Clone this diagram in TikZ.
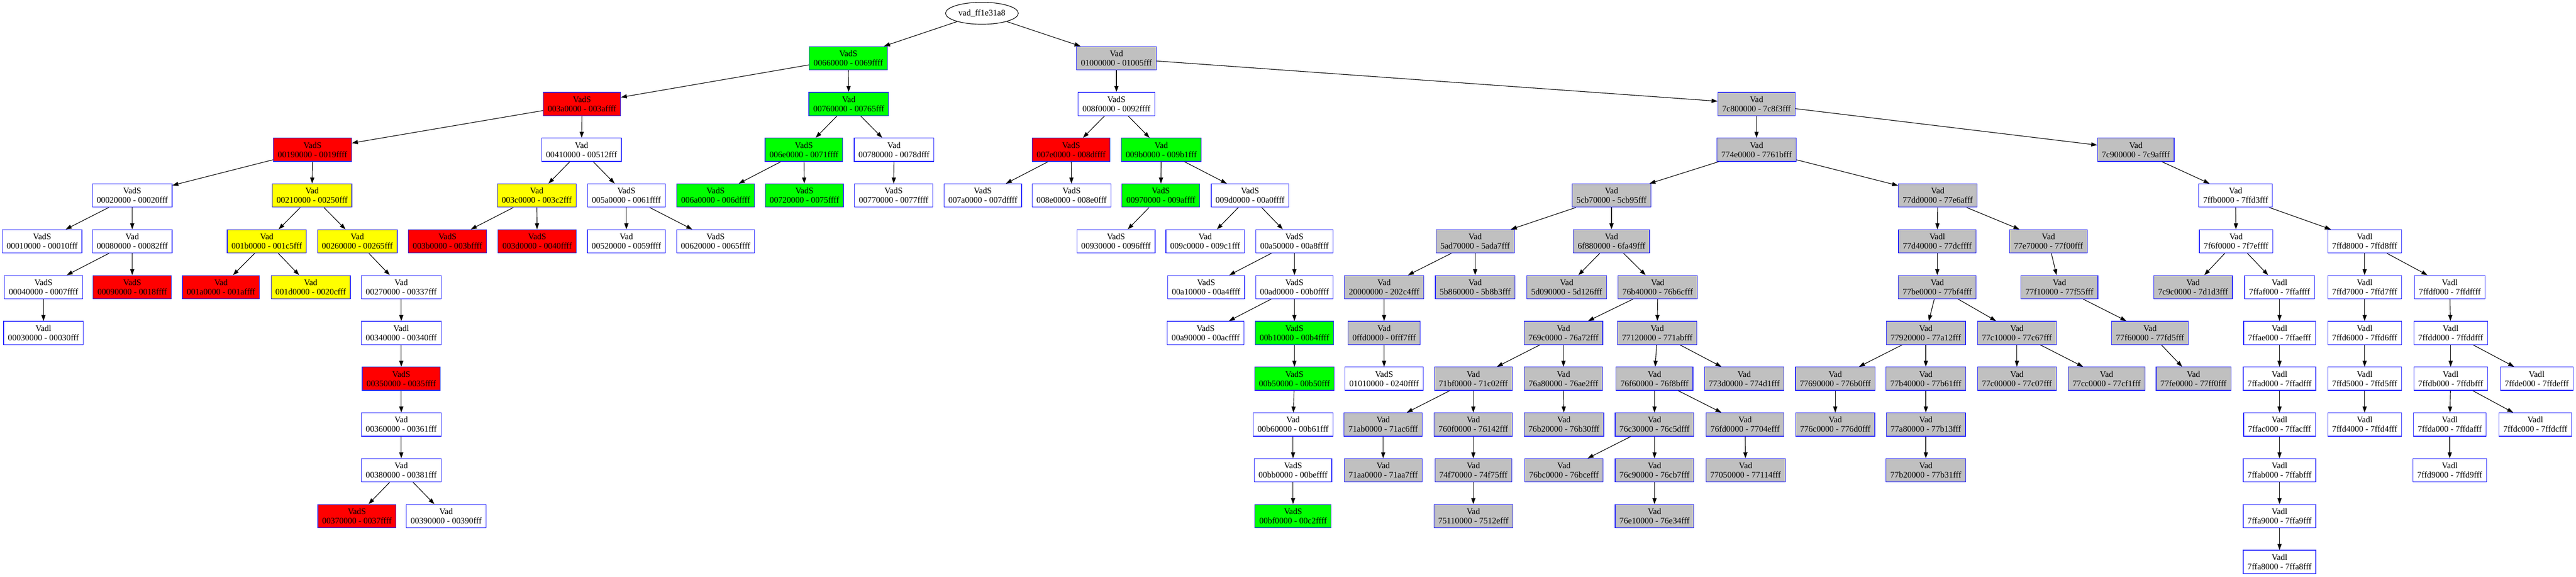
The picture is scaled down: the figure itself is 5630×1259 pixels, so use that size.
\documentclass[tikz,border=0pt]{standalone}
\usepackage{fontspec}
\setmainfont{Liberation Serif}[Ligatures=NoCommon]
\usetikzlibrary{arrows.meta,shapes.geometric}
\definecolor{vgreen}{RGB}{0,255,0}
\definecolor{vred}{RGB}{255,0,0}
\definecolor{vyellow}{RGB}{255,255,0}
\definecolor{vgray}{RGB}{192,192,192}
\definecolor{vblue}{RGB}{40,40,255}
\newcommand\vadfont{\fontsize{18.7}{20.3}\selectfont}
\newcommand\vadnode[6]{\node[vbox,fill=#6] (#1) at (#2,{27+100*#3}) {#4\\#5};}
\tikzset{
  vbox/.style={draw=vblue, line width=1.4pt, rectangle, minimum height=51pt,
    inner xsep=9.5pt, inner ysep=2pt, align=center, font=\vadfont},
  vedge/.style={line width=1.3pt, -{Triangle[length=13pt,width=9pt]}}
}
\begin{document}
\begin{tikzpicture}[x=1pt,y=-1pt]
\useasboundingbox (0,0) rectangle (5630,1259);
\node[draw, ellipse, line width=1.3pt, minimum width=159pt, minimum height=48pt, inner sep=0pt, font=\vadfont] (root) at (2146,29) {vad\_ff1e31a8};
% left subtree
\vadnode{a00660000}{1854}{1}{VadS}{00660000 - 0069ffff}{vgreen}
\vadnode{a003a0000}{1272}{2}{VadS}{003a0000 - 003affff}{vred}
\vadnode{a00190000}{683}{3}{VadS}{00190000 - 0019ffff}{vred}
\vadnode{a00020000}{289}{4}{VadS}{00020000 - 00020fff}{white}
\vadnode{a00010000}{92}{5}{VadS}{00010000 - 00010fff}{white}
\vadnode{a00080000}{289}{5}{Vad}{00080000 - 00082fff}{white}
\vadnode{a00040000}{95}{6}{VadS}{00040000 - 0007ffff}{white}
\vadnode{a00030000}{95}{7}{Vadl}{00030000 - 00030fff}{white}
\vadnode{a00090000}{289}{6}{VadS}{00090000 - 0018ffff}{vred}
\vadnode{a00210000}{682}{4}{Vad}{00210000 - 00250fff}{vyellow}
\vadnode{a001b0000}{583}{5}{Vad}{001b0000 - 001c5fff}{vyellow}
\vadnode{a001a0000}{483}{6}{Vad}{001a0000 - 001affff}{vred}
\vadnode{a001d0000}{679}{6}{Vad}{001d0000 - 0020cfff}{vyellow}
\vadnode{a00260000}{781}{5}{Vad}{00260000 - 00265fff}{vyellow}
\vadnode{a00270000}{877}{6}{Vad}{00270000 - 00337fff}{white}
\vadnode{a00340000}{877}{7}{Vadl}{00340000 - 00340fff}{white}
\vadnode{a00350000}{877}{8}{VadS}{00350000 - 0035ffff}{vred}
\vadnode{a00360000}{877}{9}{Vad}{00360000 - 00361fff}{white}
\vadnode{a00380000}{877}{10}{Vad}{00380000 - 00381fff}{white}
\vadnode{a00370000}{780}{11}{VadS}{00370000 - 0037ffff}{vred}
\vadnode{a00390000}{975}{11}{Vad}{00390000 - 00390fff}{white}
\vadnode{a00410000}{1271}{3}{Vad}{00410000 - 00512fff}{white}
\vadnode{a003c0000}{1173}{4}{Vad}{003c0000 - 003c2fff}{vyellow}
\vadnode{a003b0000}{978}{5}{VadS}{003b0000 - 003bffff}{vred}
\vadnode{a003d0000}{1174}{5}{VadS}{003d0000 - 0040ffff}{vred}
\vadnode{a005a0000}{1369}{4}{VadS}{005a0000 - 0061ffff}{white}
\vadnode{a00520000}{1369}{5}{Vad}{00520000 - 0059ffff}{white}
\vadnode{a00620000}{1564}{5}{VadS}{00620000 - 0065ffff}{white}
\vadnode{a00760000}{1855}{2}{Vad}{00760000 - 00765fff}{vgreen}
\vadnode{a006e0000}{1757}{3}{VadS}{006e0000 - 0071ffff}{vgreen}
\vadnode{a006a0000}{1564}{4}{VadS}{006a0000 - 006dffff}{vgreen}
\vadnode{a00720000}{1758}{4}{VadS}{00720000 - 0075ffff}{vgreen}
\vadnode{a00780000}{1954}{3}{Vad}{00780000 - 0078dfff}{white}
\vadnode{a00770000}{1953}{4}{VadS}{00770000 - 0077ffff}{white}
% middle subtree
\vadnode{a01000000}{2440}{1}{Vad}{01000000 - 01005fff}{vgray}
\vadnode{a008f0000}{2440}{2}{VadS}{008f0000 - 0092ffff}{white}
\vadnode{a007e0000}{2341}{3}{VadS}{007e0000 - 008dffff}{vred}
\vadnode{a007a0000}{2148}{4}{VadS}{007a0000 - 007dffff}{white}
\vadnode{a008e0000}{2342}{4}{VadS}{008e0000 - 008e0fff}{white}
\vadnode{a009b0000}{2538}{3}{Vad}{009b0000 - 009b1fff}{vgreen}
\vadnode{a00970000}{2537}{4}{VadS}{00970000 - 009affff}{vgreen}
\vadnode{a00930000}{2439}{5}{VadS}{00930000 - 0096ffff}{white}
\vadnode{a009d0000}{2732}{4}{VadS}{009d0000 - 00a0ffff}{white}
\vadnode{a009c0000}{2634}{5}{Vad}{009c0000 - 009c1fff}{white}
\vadnode{a00a50000}{2829}{5}{VadS}{00a50000 - 00a8ffff}{white}
\vadnode{a00a10000}{2636}{6}{VadS}{00a10000 - 00a4ffff}{white}
\vadnode{a00ad0000}{2829}{6}{VadS}{00ad0000 - 00b0ffff}{white}
\vadnode{a00a90000}{2635}{7}{VadS}{00a90000 - 00acffff}{white}
\vadnode{a00b10000}{2829}{7}{VadS}{00b10000 - 00b4ffff}{vgreen}
\vadnode{a00b50000}{2829}{8}{VadS}{00b50000 - 00b50fff}{vgreen}
\vadnode{a00b60000}{2826}{9}{Vad}{00b60000 - 00b61fff}{white}
\vadnode{a00bb0000}{2826}{10}{VadS}{00bb0000 - 00beffff}{white}
\vadnode{a00bf0000}{2826}{11}{VadS}{00bf0000 - 00c2ffff}{vgreen}
% gray subtree
\vadnode{a7c800000}{3839}{2}{Vad}{7c800000 - 7c8f3fff}{vgray}
\vadnode{a774e0000}{3839}{3}{Vad}{774e0000 - 7761bfff}{vgray}
\vadnode{a5cb70000}{3522}{4}{Vad}{5cb70000 - 5cb95fff}{vgray}
\vadnode{a5ad70000}{3224}{5}{Vad}{5ad70000 - 5ada7fff}{vgray}
\vadnode{a20000000}{3025}{6}{Vad}{20000000 - 202c4fff}{vgray}
\vadnode{a0ffd0000}{3025}{7}{Vad}{0ffd0000 - 0fff7fff}{vgray}
\vadnode{a01010000}{3025}{8}{VadS}{01010000 - 0240ffff}{white}
\vadnode{a5b860000}{3224}{6}{Vad}{5b860000 - 5b8b3fff}{vgray}
\vadnode{a6f880000}{3522}{5}{Vad}{6f880000 - 6fa49fff}{vgray}
\vadnode{a5d090000}{3424}{6}{Vad}{5d090000 - 5d126fff}{vgray}
\vadnode{a76b40000}{3623}{6}{Vad}{76b40000 - 76b6cfff}{vgray}
\vadnode{a769c0000}{3417}{7}{Vad}{769c0000 - 76a72fff}{vgray}
\vadnode{a71bf0000}{3220}{8}{Vad}{71bf0000 - 71c02fff}{vgray}
\vadnode{a71ab0000}{3023}{9}{Vad}{71ab0000 - 71ac6fff}{vgray}
\vadnode{a71aa0000}{3023}{10}{Vad}{71aa0000 - 71aa7fff}{vgray}
\vadnode{a760f0000}{3220}{9}{Vad}{760f0000 - 76142fff}{vgray}
\vadnode{a74f70000}{3220}{10}{Vad}{74f70000 - 74f75fff}{vgray}
\vadnode{a75110000}{3220}{11}{Vad}{75110000 - 7512efff}{vgray}
\vadnode{a76a80000}{3417}{8}{Vad}{76a80000 - 76ae2fff}{vgray}
\vadnode{a76b20000}{3418}{9}{Vad}{76b20000 - 76b30fff}{vgray}
\vadnode{a77120000}{3622}{7}{Vad}{77120000 - 771abfff}{vgray}
\vadnode{a76f60000}{3616}{8}{Vad}{76f60000 - 76f8bfff}{vgray}
\vadnode{a76c30000}{3616}{9}{Vad}{76c30000 - 76c5dfff}{vgray}
\vadnode{a76bc0000}{3418}{10}{Vad}{76bc0000 - 76bcefff}{vgray}
\vadnode{a76c90000}{3616}{10}{Vad}{76c90000 - 76cb7fff}{vgray}
\vadnode{a76e10000}{3616}{11}{Vad}{76e10000 - 76e34fff}{vgray}
\vadnode{a76fd0000}{3814}{9}{Vad}{76fd0000 - 7704efff}{vgray}
\vadnode{a77050000}{3815}{10}{Vad}{77050000 - 77114fff}{vgray}
\vadnode{a773d0000}{3812}{8}{Vad}{773d0000 - 774d1fff}{vgray}
\vadnode{a77dd0000}{4235}{4}{Vad}{77dd0000 - 77e6afff}{vgray}
\vadnode{a77d40000}{4234}{5}{Vadl}{77d40000 - 77dcffff}{vgray}
\vadnode{a77be0000}{4234}{6}{Vad}{77be0000 - 77bf4fff}{vgray}
\vadnode{a77920000}{4209}{7}{Vad}{77920000 - 77a12fff}{vgray}
\vadnode{a77690000}{4011}{8}{Vad}{77690000 - 776b0fff}{vgray}
\vadnode{a776c0000}{4011}{9}{Vad}{776c0000 - 776d0fff}{vgray}
\vadnode{a77b40000}{4209}{8}{Vad}{77b40000 - 77b61fff}{vgray}
\vadnode{a77a80000}{4209}{9}{Vad}{77a80000 - 77b13fff}{vgray}
\vadnode{a77b20000}{4209}{10}{Vad}{77b20000 - 77b31fff}{vgray}
\vadnode{a77c10000}{4408}{7}{Vad}{77c10000 - 77c67fff}{vgray}
\vadnode{a77c00000}{4408}{8}{Vad}{77c00000 - 77c07fff}{vgray}
\vadnode{a77cc0000}{4604}{8}{Vad}{77cc0000 - 77cf1fff}{vgray}
\vadnode{a77e70000}{4477}{5}{Vad}{77e70000 - 77f00fff}{vgray}
\vadnode{a77f10000}{4501}{6}{Vad}{77f10000 - 77f55fff}{vgray}
\vadnode{a77f60000}{4699}{7}{Vad}{77f60000 - 77fd5fff}{vgray}
\vadnode{a77fe0000}{4794}{8}{Vad}{77fe0000 - 77ff0fff}{vgray}
\vadnode{a7c900000}{4668}{3}{Vad}{7c900000 - 7c9affff}{vgray}
% right subtree
\vadnode{a7ffb0000}{4886}{4}{Vad}{7ffb0000 - 7ffd3fff}{white}
\vadnode{a7f6f0000}{4887}{5}{Vad}{7f6f0000 - 7f7effff}{white}
\vadnode{a7c9c0000}{4793}{6}{Vad}{7c9c0000 - 7d1d3fff}{vgray}
\vadnode{a7ffaf000}{4982}{6}{Vadl}{7ffaf000 - 7ffaffff}{white}
\vadnode{a7ffae000}{4982}{7}{Vadl}{7ffae000 - 7ffaefff}{white}
\vadnode{a7ffad000}{4982}{8}{Vadl}{7ffad000 - 7ffadfff}{white}
\vadnode{a7ffac000}{4982}{9}{Vadl}{7ffac000 - 7ffacfff}{white}
\vadnode{a7ffab000}{4982}{10}{Vadl}{7ffab000 - 7ffabfff}{white}
\vadnode{a7ffa9000}{4982}{11}{Vadl}{7ffa9000 - 7ffa9fff}{white}
\vadnode{a7ffa8000}{4982}{12}{Vadl}{7ffa8000 - 7ffa8fff}{white}
\vadnode{a7ffd8000}{5168}{5}{Vadl}{7ffd8000 - 7ffd8fff}{white}
\vadnode{a7ffd7000}{5168}{6}{Vadl}{7ffd7000 - 7ffd7fff}{white}
\vadnode{a7ffd6000}{5168}{7}{Vadl}{7ffd6000 - 7ffd6fff}{white}
\vadnode{a7ffd5000}{5168}{8}{Vadl}{7ffd5000 - 7ffd5fff}{white}
\vadnode{a7ffd4000}{5168}{9}{Vadl}{7ffd4000 - 7ffd4fff}{white}
\vadnode{a7ffdf000}{5354}{6}{Vadl}{7ffdf000 - 7ffdffff}{white}
\vadnode{a7ffdd000}{5356}{7}{Vadl}{7ffdd000 - 7ffddfff}{white}
\vadnode{a7ffdb000}{5356}{8}{Vadl}{7ffdb000 - 7ffdbfff}{white}
\vadnode{a7ffda000}{5354}{9}{Vadl}{7ffda000 - 7ffdafff}{white}
\vadnode{a7ffd9000}{5354}{10}{Vadl}{7ffd9000 - 7ffd9fff}{white}
\vadnode{a7ffdc000}{5541}{9}{Vadl}{7ffdc000 - 7ffdcfff}{white}
\vadnode{a7ffde000}{5544}{8}{Vadl}{7ffde000 - 7ffdefff}{white}
% edges
\foreach \p/\c in {root/a00660000, root/a01000000,
  a00660000/a003a0000, a00660000/a00760000,
  a003a0000/a00190000, a003a0000/a00410000,
  a00190000/a00020000, a00190000/a00210000,
  a00020000/a00010000, a00020000/a00080000,
  a00080000/a00040000, a00080000/a00090000,
  a00040000/a00030000,
  a00210000/a001b0000, a00210000/a00260000,
  a001b0000/a001a0000, a001b0000/a001d0000,
  a00260000/a00270000, a00270000/a00340000, a00340000/a00350000,
  a00350000/a00360000, a00360000/a00380000,
  a00380000/a00370000, a00380000/a00390000,
  a00410000/a003c0000, a00410000/a005a0000,
  a003c0000/a003b0000, a003c0000/a003d0000,
  a005a0000/a00520000, a005a0000/a00620000,
  a00760000/a006e0000, a00760000/a00780000,
  a006e0000/a006a0000, a006e0000/a00720000,
  a00780000/a00770000,
  a01000000/a008f0000, a01000000/a7c800000,
  a008f0000/a007e0000, a008f0000/a009b0000,
  a007e0000/a007a0000, a007e0000/a008e0000,
  a009b0000/a00970000, a009b0000/a009d0000,
  a00970000/a00930000,
  a009d0000/a009c0000, a009d0000/a00a50000,
  a00a50000/a00a10000, a00a50000/a00ad0000,
  a00ad0000/a00a90000, a00ad0000/a00b10000,
  a00b10000/a00b50000, a00b50000/a00b60000,
  a00b60000/a00bb0000, a00bb0000/a00bf0000,
  a7c800000/a774e0000, a7c800000/a7c900000,
  a774e0000/a5cb70000, a774e0000/a77dd0000,
  a5cb70000/a5ad70000, a5cb70000/a6f880000,
  a5ad70000/a20000000, a5ad70000/a5b860000,
  a20000000/a0ffd0000, a0ffd0000/a01010000,
  a6f880000/a5d090000, a6f880000/a76b40000,
  a76b40000/a769c0000, a76b40000/a77120000,
  a769c0000/a71bf0000, a769c0000/a76a80000,
  a71bf0000/a71ab0000, a71bf0000/a760f0000,
  a71ab0000/a71aa0000,
  a760f0000/a74f70000, a74f70000/a75110000,
  a76a80000/a76b20000,
  a77120000/a76f60000, a77120000/a773d0000,
  a76f60000/a76c30000, a76f60000/a76fd0000,
  a76c30000/a76bc0000, a76c30000/a76c90000,
  a76c90000/a76e10000, a76fd0000/a77050000,
  a77dd0000/a77d40000, a77dd0000/a77e70000,
  a77d40000/a77be0000,
  a77be0000/a77920000, a77be0000/a77c10000,
  a77920000/a77690000, a77920000/a77b40000,
  a77690000/a776c0000,
  a77b40000/a77a80000, a77a80000/a77b20000,
  a77c10000/a77c00000, a77c10000/a77cc0000,
  a77e70000/a77f10000, a77f10000/a77f60000, a77f60000/a77fe0000,
  a7c900000/a7ffb0000,
  a7ffb0000/a7f6f0000, a7ffb0000/a7ffd8000,
  a7f6f0000/a7c9c0000, a7f6f0000/a7ffaf000,
  a7ffaf000/a7ffae000, a7ffae000/a7ffad000, a7ffad000/a7ffac000,
  a7ffac000/a7ffab000, a7ffab000/a7ffa9000, a7ffa9000/a7ffa8000,
  a7ffd8000/a7ffd7000, a7ffd8000/a7ffdf000,
  a7ffd7000/a7ffd6000, a7ffd6000/a7ffd5000, a7ffd5000/a7ffd4000,
  a7ffdf000/a7ffdd000,
  a7ffdd000/a7ffdb000, a7ffdd000/a7ffde000,
  a7ffdb000/a7ffda000, a7ffdb000/a7ffdc000,
  a7ffda000/a7ffd9000}
  \draw[vedge] (\p) -- (\c);
\end{tikzpicture}
\end{document}
